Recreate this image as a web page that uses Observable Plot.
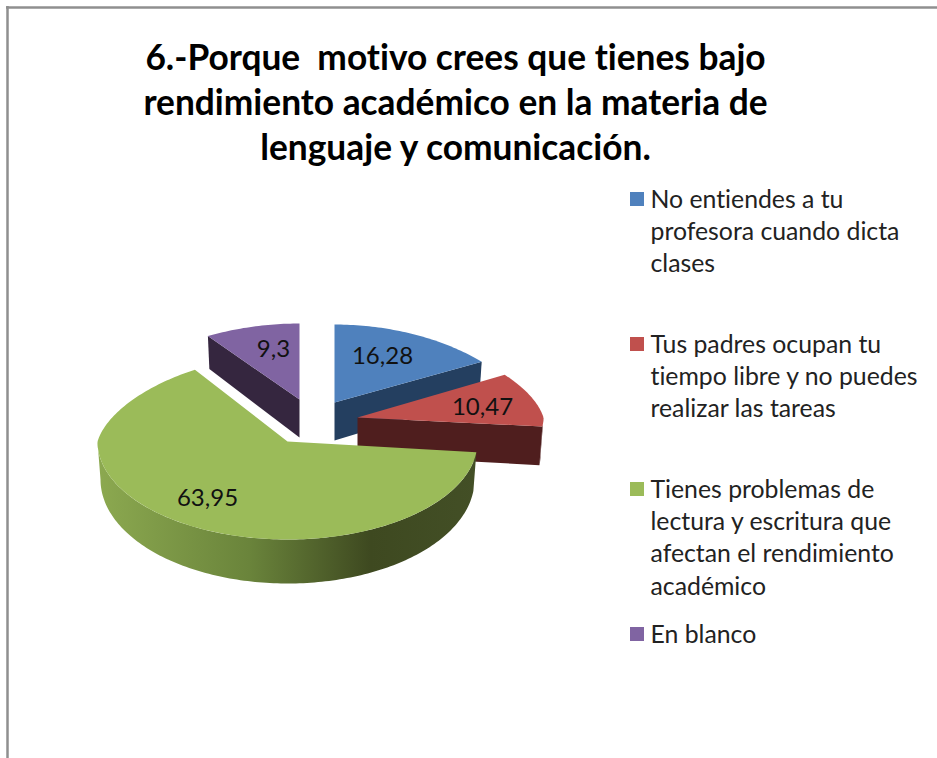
<!DOCTYPE html>
<html>
<head>
<meta charset="utf-8">
<script src="https://cdn.jsdelivr.net/npm/d3@7"></script>
<script src="https://cdn.jsdelivr.net/npm/@observablehq/plot@0.6"></script>
<style>
html,body{margin:0;padding:0;background:#fff;}
svg{display:block;font-variant-ligatures:none;}
</style>
</head>
<body>
<div id="chart"></div>
<script>
// ---- data ----
const titleLines = [
  "6.-Porque  motivo crees que tienes bajo",
  "rendimiento académico en la materia de",
  "lenguaje y comunicación."
];
const categories = [
  ["No entiendes a tu", "profesora cuando dicta", "clases"],
  ["Tus padres ocupan tu", "tiempo libre y no puedes", "realizar las tareas"],
  ["Tienes problemas de", "lectura y escritura que", "afectan el rendimiento", "académico"],
  ["En blanco"]
];
const values = [16.28, 10.47, 63.95, 9.3];
const valueLabels = ["16,28", "10,47", "63,95", "9,3"];
const colors = ["#4f81bd", "#c0504d", "#9bbb59", "#8064a2"];
const sideColors = ["#243f60", "#4f1e1e", "url(#greenSide)", "#35263f"];

// ---- layout of the exploded 3D pie (pixels in the plot's x/y scales) ----
const W = 937, H = 758;
const apex = [[334, 402], [357, 417], [287, 441], [299, 399]];
const radiusX = [186, 186, 190, 188];
const radiusBack = [78, 82, 86, 76];
const radiusFront = [82, 82, 98, 82];
const labelPos = [[382, 356], [482, 407], [207, 498], [273, 349]];
const legendFirstBaseline = [207, 352, 497, 642];
const legendLineStep = 32.4;
const titleBaselines = [69, 114, 159];

const total = d3.sum(values);
let acc = 0;
const slices = values.map((v, i) => {
  const a0 = acc / total * 2 * Math.PI;
  acc += v;
  return {i, a0, a1: acc / total * 2 * Math.PI};
});

function rim(i, a, lower) {
  const u = Math.sin(a), v = -Math.cos(a);
  const shrink = v < 0 ? 1 + 0.14 * v : 1;
  const rx = radiusX[i] - (lower ? 3 : 0);
  const ry = v < 0 ? radiusBack[i] : radiusFront[i];
  return {
    x: apex[i][0] + rx * u * shrink,
    y: apex[i][1] + ry * v + (lower ? 38 + 6 * v : 0)
  };
}
function arc(i, a0, a1, lower) {
  const n = Math.max(2, Math.ceil((a1 - a0) / 0.02));
  return d3.range(n + 1).map(k => rim(i, a0 + (a1 - a0) * k / n, lower));
}
const apexTop = i => ({x: apex[i][0], y: apex[i][1]});
const apexBottom = i => ({x: apex[i][0], y: apex[i][1] + 38});

const topFace = s => [apexTop(s.i), ...arc(s.i, s.a0, s.a1, false)];
const radialFace = (s, a) => [apexTop(s.i), rim(s.i, a, false), rim(s.i, a, true), apexBottom(s.i)];
const outerFace = s => {
  const a0 = Math.max(s.a0, Math.PI / 2), a1 = Math.min(s.a1, 3 * Math.PI / 2);
  if (a1 <= a0) return [];
  return [...arc(s.i, a0, a1, false), ...arc(s.i, a0, a1, true).reverse()];
};

const poly = (pts, fill) => Plot.line(pts, {x: "x", y: "y", fill, stroke: "none"});

// visible faces, painted back to front
const [blue, red, green, purple] = slices;
const pieMarks = [
  poly(radialFace(blue, blue.a1), sideColors[0]),
  poly(topFace(blue), colors[0]),
  poly(radialFace(purple, purple.a0), sideColors[3]),
  poly(topFace(purple), colors[3]),
  poly(radialFace(red, red.a1), sideColors[1]),
  poly(outerFace(red), sideColors[1]),
  poly(topFace(red), colors[1]),
  poly(outerFace(green), sideColors[2]),
  poly(topFace(green), colors[2])
];

const legendRows = categories.flatMap((lines, i) =>
  lines.map((text, k) => ({text, y: legendFirstBaseline[i] + k * legendLineStep})));
const swatches = categories.map((_, i) => ({
  i, y1: legendFirstBaseline[i] - 15, y2: legendFirstBaseline[i] - 1
}));
const labels = values.map((_, i) => ({text: valueLabels[i], x: labelPos[i][0], y: labelPos[i][1]}));
const titles = titleLines.map((text, i) => ({text, y: titleBaselines[i]}));

const defs = () => {
  const ns = "http://www.w3.org/2000/svg";
  const d = document.createElementNS(ns, "defs");
  d.innerHTML = `<linearGradient id="greenSide" x1="0" x2="1" y1="0" y2="0">
    <stop offset="0" stop-color="#8ca950"/>
    <stop offset="0.4" stop-color="#6a843b"/>
    <stop offset="0.72" stop-color="#3e4920"/>
    <stop offset="1" stop-color="#434f26"/>
  </linearGradient>`;
  return d;
};

const chart = Plot.plot({
  width: W, height: H,
  margin: 0,
  style: {background: "#fff", fontFamily: "Lato, sans-serif"},
  x: {axis: null, domain: [0, W], range: [0, W]},
  y: {axis: null, domain: [0, H], range: [0, H]},
  marks: [
    defs,
    // frame of the chart area (only top and left visible)
    Plot.ruleY([7], {x1: 6, x2: W, stroke: "#8f8f8f", strokeWidth: 2.5}),
    Plot.ruleX([7], {y1: 6, y2: H, stroke: "#8f8f8f", strokeWidth: 2.5}),
    ...pieMarks,
    Plot.text(labels, {x: "x", y: "y", text: "text", fontSize: 24, fill: "#111", textAnchor: "middle"}),
    Plot.text(titles, {x: () => 455, y: "y", text: "text", fontSize: 35.3, fontWeight: 700, fill: "#000",
      textAnchor: "middle", lineAnchor: "bottom"}),
    Plot.rect(swatches, {x1: () => 630, x2: () => 644, y1: "y1", y2: "y2", fill: d => colors[d.i]}),
    Plot.text(legendRows, {x: () => 650, y: "y", text: "text", fontSize: 24.8, fill: "#222",
      textAnchor: "start", lineAnchor: "bottom"})
  ]
});
document.getElementById("chart").append(chart);
</script>
</body>
</html>
